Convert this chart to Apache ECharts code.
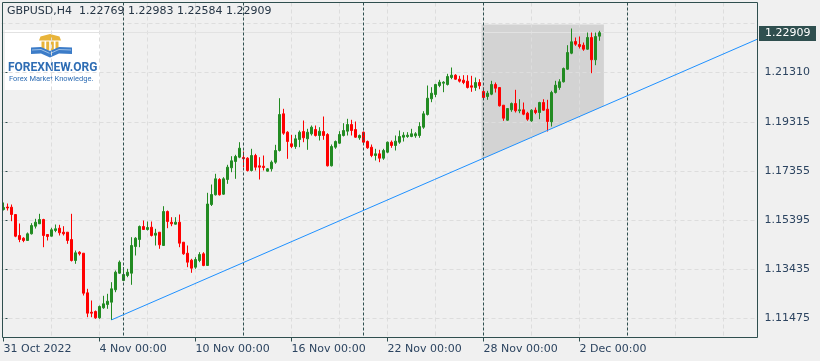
<!DOCTYPE html>
<html>
<head>
<meta charset="utf-8">
<script src="https://cdn.jsdelivr.net/npm/echarts@6/dist/echarts.min.js"></script>
<style>html,body{margin:0;padding:0;background:#F0F0F0;}#c{width:820px;height:361px;}</style>
</head>
<body>
<div id="c"></div>
<script>
// ---------- data ----------
const symbolTitle = 'GBPUSD,H4  1.22769 1.22983 1.22584 1.22909';
const days = ['31 Oct 2022','1 Nov','2 Nov','3 Nov','4 Nov','7 Nov','8 Nov','9 Nov','10 Nov','11 Nov','14 Nov','15 Nov','16 Nov','17 Nov','18 Nov','21 Nov','22 Nov','23 Nov','24 Nov','25 Nov','28 Nov','29 Nov','30 Nov','1 Dec','2 Dec'];
const hours = ['00:00','04:00','08:00','12:00','16:00','20:00'];
const tickIdx = [0,24,48,72,96,120,144];
const tickText = ['31 Oct 2022','4 Nov 00:00','10 Nov 00:00','16 Nov 00:00','22 Nov 00:00','28 Nov 00:00','2 Dec 00:00'];
const separatorIdx = [30,60,90,120,156];
const yLabelValues = [1.11475,1.13435,1.15395,1.17355,1.19315,1.21310];
const yGridValues = [1.11475,1.13435,1.15395,1.17355,1.19315,1.21310,1.23270];

const opens = [1.15835,1.15935,1.15927,1.15635,1.14795,1.14687,1.14595,1.14863,1.15167,1.15263,
1.15435,1.14835,1.14767,1.14995,1.15087,1.14927,1.14927,1.14635,1.13795,1.14127,
1.14087,1.12503,1.11727,1.11755,1.11503,1.11903,1.12035,1.12127,1.12623,1.13287,
1.12995,1.13195,1.13287,1.14355,1.14635,1.15155,1.15035,1.15127,1.14807,1.14927,
1.14395,1.15755,1.15327,1.15247,1.15327,1.14527,1.14087,1.13807,1.13527,1.13795,
1.14063,1.13595,1.16035,1.16423,1.17035,1.16447,1.17035,1.17503,1.17755,1.17927,
1.17915,1.17887,1.17395,1.17995,1.17583,1.17567,1.17367,1.17463,1.17727,1.18195,
1.19663,1.18927,1.18463,1.18355,1.18635,1.18955,1.18663,1.18863,1.19035,1.18795,
1.18955,1.18835,1.17583,1.18327,1.18487,1.18795,1.18967,1.19235,1.19035,1.18703,
1.18927,1.18555,1.18327,1.17995,1.18063,1.17887,1.18127,1.18527,1.18395,1.18527,
1.18727,1.18755,1.18755,1.18783,1.18795,1.19127,1.19635,1.20263,1.20435,1.20795,
1.20887,1.20835,1.21115,1.21207,1.21047,1.21007,1.20967,1.20783,1.20715,1.20915,
1.20555,1.20355,1.20447,1.20835,1.20715,1.20007,1.19407,1.19823,1.20075,1.19783,
1.19823,1.19687,1.19383,1.19807,1.19715,1.20115,1.19847,1.19343,1.20515,1.20715,
1.20943,1.21447,1.22087,1.22555,1.22435,1.22407,1.22247,1.22715,1.21823,1.22769];
const closes = [1.15915,1.15895,1.15635,1.14767,1.14635,1.14595,1.14863,1.15195,1.15327,1.15435,
1.14795,1.14755,1.15023,1.15063,1.14903,1.14863,1.14595,1.13795,1.14103,1.14063,
1.12487,1.11687,1.11687,1.11503,1.11955,1.12063,1.12167,1.12663,1.13327,1.13727,
1.13235,1.13327,1.14395,1.14687,1.15155,1.15035,1.15115,1.14795,1.14887,1.14423,
1.15755,1.15355,1.15263,1.15327,1.14487,1.14063,1.13727,1.13487,1.13835,1.14035,
1.13595,1.16055,1.16435,1.17063,1.16423,1.17063,1.17527,1.17783,1.17955,1.18287,
1.17863,1.17395,1.17995,1.17527,1.17527,1.17515,1.17463,1.17727,1.18195,1.19635,
1.18887,1.18555,1.18355,1.18663,1.18927,1.18703,1.18927,1.19127,1.18795,1.18967,
1.18795,1.17583,1.18355,1.18555,1.18835,1.18995,1.19235,1.18995,1.18727,1.18795,
1.18527,1.18303,1.17995,1.18063,1.17887,1.18195,1.18527,1.18395,1.18567,1.18755,
1.18807,1.18807,1.18863,1.18863,1.19155,1.19663,1.20287,1.20487,1.20835,1.20927,
1.20927,1.21155,1.21207,1.21047,1.20967,1.20915,1.20715,1.20727,1.20915,1.20783,
1.20315,1.20487,1.20835,1.20687,1.19983,1.19487,1.19875,1.20075,1.19783,1.19823,
1.19647,1.19447,1.19807,1.19715,1.20115,1.19807,1.19355,1.20515,1.20807,1.20943,
1.21475,1.22115,1.22543,1.22447,1.22355,1.22247,1.22715,1.21823,1.22755,1.22909];
const lows = [1.15795,1.15795,1.15367,1.14727,1.14527,1.14527,1.14575,1.14835,1.15075,1.15255,
1.14327,1.14595,1.14755,1.14927,1.14795,1.14795,1.14463,1.13755,1.13663,1.13995,
1.12395,1.11527,1.11527,1.11463,1.11463,1.11863,1.11863,1.11415,1.12527,1.13263,
1.12967,1.13127,1.12823,1.13995,1.14327,1.15015,1.14995,1.14755,1.14395,1.14263,
1.14375,1.15087,1.15167,1.15235,1.14327,1.14023,1.13527,1.13303,1.13463,1.13727,
1.13567,1.13575,1.15975,1.16395,1.16395,1.16423,1.16863,1.17327,1.17063,1.17887,
1.17527,1.17355,1.17355,1.17395,1.17035,1.17395,1.17355,1.17355,1.17663,1.18155,
1.18823,1.17863,1.18287,1.18263,1.18327,1.18527,1.18223,1.18795,1.18755,1.18595,
1.18623,1.17555,1.17555,1.18263,1.18463,1.18755,1.18795,1.18795,1.18703,1.18623,
1.18435,1.18263,1.17927,1.17795,1.17727,1.17823,1.18087,1.18303,1.18195,1.18463,
1.18555,1.18703,1.18727,1.18703,1.18703,1.19063,1.19595,1.20127,1.20327,1.20727,
1.20527,1.20795,1.21047,1.21023,1.20915,1.20847,1.20675,1.20543,1.20583,1.20647,
1.20223,1.20223,1.20407,1.20515,1.19955,1.19383,1.19383,1.19743,1.19715,1.19687,
1.19607,1.19383,1.19343,1.19647,1.19447,1.19783,1.18955,1.19155,1.20475,1.20623,
1.20915,1.21423,1.22047,1.22383,1.22275,1.22183,1.22223,1.21287,1.21607,1.22584];
const highs = [1.16115,1.16075,1.16035,1.15650,1.15275,1.14727,1.14915,1.15287,1.15463,1.15663,
1.15463,1.14855,1.15103,1.15235,1.15223,1.15167,1.14927,1.15663,1.14195,1.14167,
1.14087,1.12663,1.12195,1.11795,1.11995,1.12383,1.12463,1.12927,1.13395,1.13795,
1.13527,1.13463,1.14727,1.14727,1.15195,1.15395,1.15355,1.15355,1.15063,1.14927,
1.15967,1.15795,1.15527,1.15527,1.15635,1.14527,1.14395,1.13863,1.13927,1.14127,
1.14127,1.16503,1.16835,1.17263,1.17087,1.17127,1.17623,1.17967,1.18023,1.18527,
1.18155,1.17927,1.18263,1.18063,1.17927,1.17995,1.17487,1.17795,1.18423,1.20287,
1.19863,1.18967,1.18823,1.18823,1.18995,1.19395,1.19063,1.19195,1.19195,1.19127,
1.19555,1.18887,1.18435,1.18595,1.18967,1.19287,1.19463,1.19423,1.19355,1.18835,
1.18955,1.18595,1.18435,1.18263,1.18223,1.18263,1.18555,1.18595,1.18795,1.18995,
1.18927,1.18927,1.19063,1.18927,1.19327,1.19767,1.20795,1.20727,1.20863,1.21023,
1.20967,1.21263,1.21515,1.21247,1.21183,1.21207,1.21207,1.21183,1.21115,1.21047,
1.20715,1.20583,1.20983,1.20915,1.20715,1.20007,1.19875,1.20115,1.20623,1.20247,
1.20115,1.19743,1.19847,1.19915,1.20143,1.20247,1.20223,1.20583,1.20983,1.21047,
1.21515,1.22407,1.23075,1.22715,1.22755,1.22515,1.22915,1.22915,1.22915,1.22983];

// chart objects (trend line anchors and shaded zone), in bar index / price units
const trendStart = [27, 1.11420];
const trendEnd = [188.5, 1.22650];
const zoneLeft = 119.5, zoneRight = 150.1, zoneTop = 1.23235;

// ---------- build ----------
const totalSlots = 189;
const xMin = -0.5, xMax = totalSlots - 0.5;
const categories = [];
days.forEach(d => hours.forEach(h => categories.push(d + ' ' + h)));
for (let k = categories.length; k < totalSlots; k++) categories.push('slot ' + k);
const candles = opens.map((o, i) => [o, closes[i], lows[i], highs[i]]);
const lastClose = closes[closes.length - 1];
function trendAt(x) {
  return trendStart[1] + (x - trendStart[0]) * (trendEnd[1] - trendStart[1]) / (trendEnd[0] - trendStart[0]);
}
const vGrid = [];
for (let k = 12; k < totalSlots; k += 12) vGrid.push(k);

const FONT = 'DejaVu Sans';
const TXT = '#2c4460';
const DARK = '#2F4F4F';
const crisp = (v) => Math.round(v - 0.5) + 0.5;

// line helpers drawn through the axes' own scales
function hLineSeries(values, style, z) {
  return {
    type: 'custom', xAxisIndex: 1, yAxisIndex: 0, z: z, silent: true, clip: false,
    data: values.map(v => [0, v]),
    renderItem: (params, api) => {
      const v = api.value(1);
      const a = api.coord([xMin, v]), b = api.coord([xMax, v]);
      const y = crisp(a[1]);
      return {type: 'line', shape: {x1: a[0], y1: y, x2: b[0], y2: y}, style: style};
    }
  };
}
function vLineSeries(values, style, z) {
  return {
    type: 'custom', xAxisIndex: 1, yAxisIndex: 0, z: z, silent: true, clip: false,
    data: values.map(v => [v, 1.2]),
    renderItem: (params, api) => {
      const v = api.value(0);
      const a = api.coord([v, 1.24115]), b = api.coord([v, 1.10715]);
      const x = crisp(a[0]);
      return {type: 'line', shape: {x1: x, y1: a[1], x2: x, y2: b[1]}, style: style};
    }
  };
}

const chart = echarts.init(document.getElementById('c'), null, {renderer: 'canvas'});
const gridStyle = {stroke: '#DDDDDD', lineWidth: 1, lineDash: [4, 3]};
const option = {
  backgroundColor: '#F0F0F0',
  animation: false,
  title: {
    text: symbolTitle, left: 7, top: 6, padding: 0,
    textStyle: {fontSize: 11, fontFamily: FONT, fontWeight: 'normal', color: '#253545'}
  },
  grid: {left: 1.5, top: 2.5, width: 756, height: 335, containLabel: false},
  xAxis: [
    {
      type: 'category', data: categories, boundaryGap: true,
      axisLine: {show: false},
      axisTick: {show: true, alignWithLabel: true, length: 4,
        interval: (i) => tickIdx.includes(i), lineStyle: {color: DARK}},
      axisLabel: {interval: (i) => tickIdx.includes(i),
        formatter: (v, i) => tickText[tickIdx.indexOf(i)] || '',
        align: 'left', margin: 6, color: TXT, fontSize: 11, fontFamily: FONT},
      splitLine: {show: false}
    },
    {type: 'value', min: xMin, max: xMax, show: false}
  ],
  yAxis: {
    type: 'value', position: 'right', min: 1.10715, max: 1.24115,
    axisLine: {show: false},
    axisTick: {show: true, length: 4, customValues: yLabelValues, lineStyle: {color: DARK}},
    axisLabel: {customValues: yLabelValues, formatter: (v) => v.toFixed(5),
      margin: 7, color: TXT, fontSize: 11, fontFamily: FONT},
    splitLine: {show: false}
  },
  series: [
    {
      type: 'custom', xAxisIndex: 1, yAxisIndex: 0, z: 1, silent: true,
      data: [[zoneLeft, zoneTop]],
      renderItem: (params, api) => {
        const pts = [[zoneLeft, zoneTop], [zoneRight, zoneTop],
          [zoneRight, trendAt(zoneRight)], [zoneLeft, trendAt(zoneLeft)]].map(p => api.coord(p));
        return {type: 'polygon', shape: {points: pts}, style: {fill: '#D3D3D3'}};
      }
    },
    hLineSeries(yGridValues, gridStyle, 2),
    vLineSeries(vGrid, gridStyle, 2),
    hLineSeries([lastClose], {stroke: '#E2E2E2', lineWidth: 1}, 2),
    {
      type: 'candlestick', xAxisIndex: 0, yAxisIndex: 0, z: 3, silent: true,
      data: candles, barWidth: 2,
      itemStyle: {color: '#228B22', color0: '#FF0000', borderColor: '#228B22', borderColor0: '#FF0000', borderWidth: 1}
    },
    vLineSeries(separatorIdx, {stroke: DARK, lineWidth: 1, lineDash: [3, 2]}, 4),
    {
      type: 'line', xAxisIndex: 1, yAxisIndex: 0, z: 5, silent: true,
      data: [trendStart, trendEnd], symbol: 'none',
      lineStyle: {color: '#1E90FF', width: 1}
    }
  ]
};
chart.setOption(option);

// price tag, border and logo
const tagY = chart.convertToPixel({yAxisIndex: 0}, lastClose);
const BLUE = '#2e6db4', GOLD = '#E8B43A';
chart.setOption({
  graphic: [
    {type: 'rect', z: 100, silent: true, shape: {x: 2.5, y: 2.5, width: 755, height: 335},
      style: {fill: 'none', stroke: DARK, lineWidth: 1}},
    {type: 'rect', z: 100, silent: true, shape: {x: 759, y: Math.round(tagY) - 7, width: 57, height: 15},
      style: {fill: DARK}},
    {type: 'text', z: 101, silent: true,
      style: {text: lastClose.toFixed(5), x: 765, y: Math.round(tagY) + 0.5, fill: '#ffffff',
        fontSize: 11, fontFamily: FONT, verticalAlign: 'middle', align: 'left'}},
    {type: 'group', z: 100, silent: true, children: [
      {type: 'rect', shape: {x: 5, y: 30, width: 95, height: 60}, style: {fill: '#ffffff'}},
      {type: 'polygon', shape: {points: [[39, 40.5], [40.5, 36.5], [50, 34], [59.5, 36.5], [61, 40.5]]}, style: {fill: GOLD}},
      {type: 'rect', shape: {x: 41.5, y: 41.5, width: 3, height: 9}, style: {fill: GOLD}},
      {type: 'rect', shape: {x: 46.2, y: 41.5, width: 3, height: 9}, style: {fill: GOLD}},
      {type: 'rect', shape: {x: 50.8, y: 41.5, width: 3, height: 9}, style: {fill: GOLD}},
      {type: 'rect', shape: {x: 55.5, y: 41.5, width: 3, height: 9}, style: {fill: GOLD}},
      {type: 'polygon', shape: {points: [[31, 47.5], [41, 47], [50, 51], [50, 57.5], [41, 53.5], [31, 54]]}, style: {fill: '#3c7cc8'}},
      {type: 'polygon', shape: {points: [[50, 51], [59, 47], [72, 47.5], [72, 54], [59, 53.5], [50, 57.5]]}, style: {fill: '#3c7cc8'}},
      {type: 'polyline', shape: {points: [[32, 50], [41, 49.5], [49.5, 53.3]]}, style: {stroke: '#b5d0ee', lineWidth: 0.8, fill: 'none'}},
      {type: 'polyline', shape: {points: [[50.5, 53.3], [59, 49.5], [71, 50]]}, style: {stroke: '#b5d0ee', lineWidth: 0.8, fill: 'none'}},
      {type: 'text', style: {text: 'FOREXNEW.ORG', x: 8, y: 67.5, fill: BLUE, fontSize: 12,
        fontFamily: 'Roboto', fontWeight: 'bold', verticalAlign: 'middle', align: 'left'}},
      {type: 'text', style: {text: 'Forex Market Knowledge.', x: 9, y: 79.5, fill: BLUE, fontSize: 7.5,
        fontFamily: 'Roboto', verticalAlign: 'middle', align: 'left'}}
    ]}
  ]
});
</script>
</body>
</html>
